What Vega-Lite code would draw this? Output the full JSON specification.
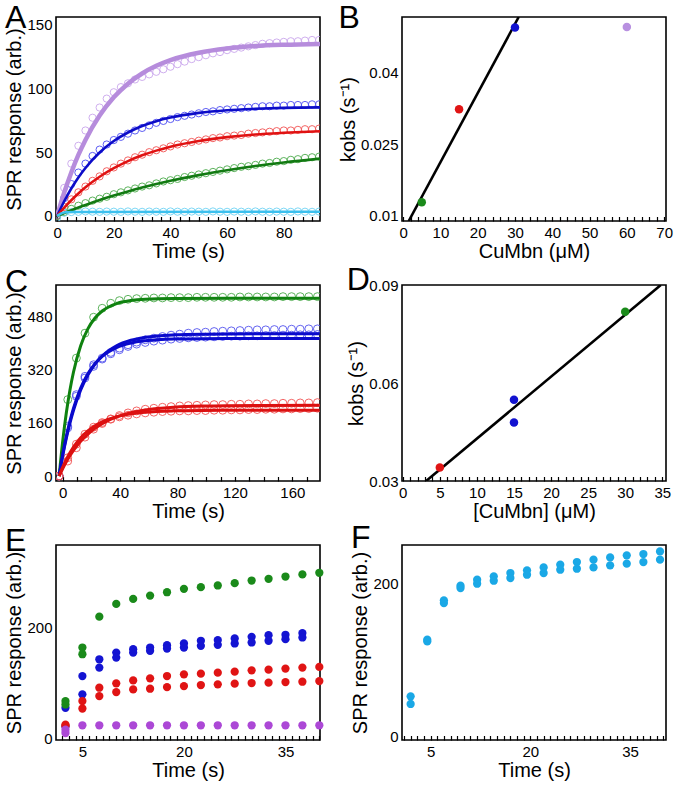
{
 "$schema": "https://vega.github.io/schema/vega-lite/v6.json",
 "background": "white",
 "padding": {"left": 4, "top": 0, "right": 2, "bottom": 2},
 "columns": 2,
 "spacing": {"row": 64, "column": 82},
 "bounds": "flush",
 "resolve": {"scale": {"color": "independent"}},
 "datasets": {
  "Ao": [
   {"s":"P","t":0,"v":1},{"s":"P","t":2.5,"v":22},{"s":"P","t":5,"v":41},{"s":"P","t":7.5,"v":55},{"s":"P","t":10,"v":67},{"s":"P","t":12.5,"v":77},{"s":"P","t":15,"v":85},{"s":"P","t":17.5,"v":92},{"s":"P","t":20,"v":97},{"s":"P","t":22.5,"v":101},{"s":"P","t":25,"v":104},{"s":"P","t":27.5,"v":107},{"s":"P","t":30,"v":109},{"s":"P","t":32.5,"v":111},{"s":"P","t":35,"v":113},{"s":"P","t":37.5,"v":115},{"s":"P","t":40,"v":117},{"s":"P","t":42.5,"v":119},{"s":"P","t":45,"v":121},{"s":"P","t":47.5,"v":123},{"s":"P","t":50,"v":124.5},{"s":"P","t":52.5,"v":126},{"s":"P","t":55,"v":127.5},{"s":"P","t":57.5,"v":128.5},{"s":"P","t":60,"v":130},{"s":"P","t":62.5,"v":131},{"s":"P","t":65,"v":132},{"s":"P","t":67.5,"v":133},{"s":"P","t":70,"v":134},{"s":"P","t":72.5,"v":135},{"s":"P","t":75,"v":135.5},{"s":"P","t":77.5,"v":136},{"s":"P","t":80,"v":136.5},{"s":"P","t":82.5,"v":137},{"s":"P","t":85,"v":137},{"s":"P","t":87.5,"v":137.5},{"s":"P","t":90,"v":138},{"s":"P","t":92.5,"v":138},
   {"s":"B","t":0,"v":0},{"s":"B","t":2.5,"v":14},{"s":"B","t":5,"v":25},{"s":"B","t":7.5,"v":34},{"s":"B","t":10,"v":41},{"s":"B","t":12.5,"v":47},{"s":"B","t":15,"v":52},{"s":"B","t":17.5,"v":56},{"s":"B","t":20,"v":59.5},{"s":"B","t":22.5,"v":62},{"s":"B","t":25,"v":64.5},{"s":"B","t":27.5,"v":67},{"s":"B","t":30,"v":69},{"s":"B","t":32.5,"v":71},{"s":"B","t":35,"v":73},{"s":"B","t":37.5,"v":74.5},{"s":"B","t":40,"v":76},{"s":"B","t":42.5,"v":77.5},{"s":"B","t":45,"v":78.5},{"s":"B","t":47.5,"v":79.5},{"s":"B","t":50,"v":80.5},{"s":"B","t":52.5,"v":81.5},{"s":"B","t":55,"v":82},{"s":"B","t":57.5,"v":83},{"s":"B","t":60,"v":83.5},{"s":"B","t":62.5,"v":84},{"s":"B","t":65,"v":84.5},{"s":"B","t":67.5,"v":85},{"s":"B","t":70,"v":85.5},{"s":"B","t":72.5,"v":86},{"s":"B","t":75,"v":86},{"s":"B","t":77.5,"v":86.5},{"s":"B","t":80,"v":86.5},{"s":"B","t":82.5,"v":87},{"s":"B","t":85,"v":87},{"s":"B","t":87.5,"v":87},{"s":"B","t":90,"v":87.5},{"s":"B","t":92.5,"v":87.5},
   {"s":"R","t":0,"v":0},{"s":"R","t":2.5,"v":7},{"s":"R","t":5,"v":13},{"s":"R","t":7.5,"v":18.5},{"s":"R","t":10,"v":23},{"s":"R","t":12.5,"v":27.5},{"s":"R","t":15,"v":31},{"s":"R","t":17.5,"v":35},{"s":"R","t":20,"v":38},{"s":"R","t":22.5,"v":41},{"s":"R","t":25,"v":43.5},{"s":"R","t":27.5,"v":46},{"s":"R","t":30,"v":48},{"s":"R","t":32.5,"v":50},{"s":"R","t":35,"v":51.5},{"s":"R","t":37.5,"v":53},{"s":"R","t":40,"v":54.5},{"s":"R","t":42.5,"v":56},{"s":"R","t":45,"v":57},{"s":"R","t":47.5,"v":58},{"s":"R","t":50,"v":59},{"s":"R","t":52.5,"v":60},{"s":"R","t":55,"v":61},{"s":"R","t":57.5,"v":61.5},{"s":"R","t":60,"v":62.5},{"s":"R","t":62.5,"v":63},{"s":"R","t":65,"v":63.5},{"s":"R","t":67.5,"v":64.5},{"s":"R","t":70,"v":65},{"s":"R","t":72.5,"v":65.5},{"s":"R","t":75,"v":66},{"s":"R","t":77.5,"v":66.5},{"s":"R","t":80,"v":67},{"s":"R","t":82.5,"v":67},{"s":"R","t":85,"v":67.5},{"s":"R","t":87.5,"v":68},{"s":"R","t":90,"v":68},{"s":"R","t":92.5,"v":68.5},
   {"s":"G","t":0,"v":0},{"s":"G","t":2.5,"v":3},{"s":"G","t":5,"v":5.5},{"s":"G","t":7.5,"v":8},{"s":"G","t":10,"v":10},{"s":"G","t":12.5,"v":12},{"s":"G","t":15,"v":13.5},{"s":"G","t":17.5,"v":15},{"s":"G","t":20,"v":17},{"s":"G","t":22.5,"v":18.5},{"s":"G","t":25,"v":20},{"s":"G","t":27.5,"v":21.5},{"s":"G","t":30,"v":23},{"s":"G","t":32.5,"v":24},{"s":"G","t":35,"v":25.5},{"s":"G","t":37.5,"v":27},{"s":"G","t":40,"v":28},{"s":"G","t":42.5,"v":29},{"s":"G","t":45,"v":30.5},{"s":"G","t":47.5,"v":31.5},{"s":"G","t":50,"v":32.5},{"s":"G","t":52.5,"v":33.5},{"s":"G","t":55,"v":34.5},{"s":"G","t":57.5,"v":35.5},{"s":"G","t":60,"v":36.5},{"s":"G","t":62.5,"v":37.5},{"s":"G","t":65,"v":38.5},{"s":"G","t":67.5,"v":39},{"s":"G","t":70,"v":40},{"s":"G","t":72.5,"v":41},{"s":"G","t":75,"v":41.5},{"s":"G","t":77.5,"v":42.5},{"s":"G","t":80,"v":43},{"s":"G","t":82.5,"v":44},{"s":"G","t":85,"v":44.5},{"s":"G","t":87.5,"v":45.5},{"s":"G","t":90,"v":46},{"s":"G","t":92.5,"v":46.5},
   {"s":"C","t":0,"v":-1.5},{"s":"C","t":2.5,"v":2.5},{"s":"C","t":5,"v":3},{"s":"C","t":7.5,"v":3.2},{"s":"C","t":10,"v":3.5},{"s":"C","t":12.5,"v":3.3},{"s":"C","t":15,"v":3.2},{"s":"C","t":17.5,"v":3.4},{"s":"C","t":20,"v":3.3},{"s":"C","t":22.5,"v":3.2},{"s":"C","t":25,"v":3.5},{"s":"C","t":27.5,"v":3.3},{"s":"C","t":30,"v":3.2},{"s":"C","t":32.5,"v":3.4},{"s":"C","t":35,"v":3.3},{"s":"C","t":37.5,"v":3.2},{"s":"C","t":40,"v":3.5},{"s":"C","t":42.5,"v":3.3},{"s":"C","t":45,"v":3.2},{"s":"C","t":47.5,"v":3.4},{"s":"C","t":50,"v":3.3},{"s":"C","t":52.5,"v":3.2},{"s":"C","t":55,"v":3.5},{"s":"C","t":57.5,"v":3.3},{"s":"C","t":60,"v":3.2},{"s":"C","t":62.5,"v":3.4},{"s":"C","t":65,"v":3.3},{"s":"C","t":67.5,"v":3.2},{"s":"C","t":70,"v":3.5},{"s":"C","t":72.5,"v":3.3},{"s":"C","t":75,"v":3.2},{"s":"C","t":77.5,"v":3.4},{"s":"C","t":80,"v":3.3},{"s":"C","t":82.5,"v":3.2},{"s":"C","t":85,"v":3.5},{"s":"C","t":87.5,"v":3.3},{"s":"C","t":90,"v":3.2},{"s":"C","t":92.5,"v":3.4}
  ],
  "Al": [
   {"s":"P","t":0,"v":0},{"s":"P","t":2.5,"v":18.3},{"s":"P","t":5,"v":34.1},{"s":"P","t":7.5,"v":47.8},{"s":"P","t":10,"v":59.6},{"s":"P","t":15,"v":78.7},{"s":"P","t":20,"v":93},{"s":"P","t":25,"v":103.7},{"s":"P","t":30,"v":111.7},{"s":"P","t":35,"v":117.7},{"s":"P","t":40,"v":122.2},{"s":"P","t":50,"v":128},{"s":"P","t":60,"v":131.3},{"s":"P","t":70,"v":133.2},{"s":"P","t":80,"v":134.2},{"s":"P","t":92.8,"v":134.9},
   {"s":"B","t":0,"v":0},{"s":"B","t":2.5,"v":11.5},{"s":"B","t":5,"v":21.5},{"s":"B","t":7.5,"v":30.2},{"s":"B","t":10,"v":37.6},{"s":"B","t":15,"v":49.7},{"s":"B","t":20,"v":58.7},{"s":"B","t":25,"v":65.4},{"s":"B","t":30,"v":70.5},{"s":"B","t":35,"v":74.3},{"s":"B","t":40,"v":77.1},{"s":"B","t":50,"v":80.8},{"s":"B","t":60,"v":82.9},{"s":"B","t":70,"v":84},{"s":"B","t":80,"v":84.7},{"s":"B","t":92.8,"v":85.1},
   {"s":"R","t":0,"v":0},{"s":"R","t":2.5,"v":6.5},{"s":"R","t":5,"v":12.3},{"s":"R","t":7.5,"v":17.6},{"s":"R","t":10,"v":22.4},{"s":"R","t":15,"v":30.7},{"s":"R","t":20,"v":37.4},{"s":"R","t":25,"v":43},{"s":"R","t":30,"v":47.5},{"s":"R","t":35,"v":51.2},{"s":"R","t":40,"v":54.3},{"s":"R","t":50,"v":58.8},{"s":"R","t":60,"v":61.8},{"s":"R","t":70,"v":63.9},{"s":"R","t":80,"v":65.2},{"s":"R","t":92.8,"v":66.4},
   {"s":"G","t":0,"v":0},{"s":"G","t":5,"v":4.5},{"s":"G","t":10,"v":8.6},{"s":"G","t":15,"v":12.5},{"s":"G","t":20,"v":16},{"s":"G","t":25,"v":19.2},{"s":"G","t":30,"v":22.2},{"s":"G","t":40,"v":27.5},{"s":"G","t":50,"v":32},{"s":"G","t":60,"v":35.8},{"s":"G","t":70,"v":39.1},{"s":"G","t":80,"v":41.9},{"s":"G","t":92.8,"v":44.9},
   {"s":"C","t":0,"v":0},{"s":"C","t":1.5,"v":2},{"s":"C","t":3,"v":2.8},{"s":"C","t":6,"v":3.1},{"s":"C","t":92.8,"v":3.3}
  ],
  "Bp": [
   {"s":"G","c":5,"k":0.0128},{"s":"R","c":15,"k":0.0323},{"s":"B","c":30,"k":0.0494},{"s":"P","c":60,"k":0.0495}
  ],
  "Bl": [{"c":1.5,"k":0.0089},{"c":31,"k":0.0516}],
  "Co": [
   {"s":"G","t":-2.5,"v":0},{"s":"G","t":3.5,"v":230},{"s":"G","t":9.5,"v":355},{"s":"G","t":15.5,"v":430},{"s":"G","t":21.5,"v":478},{"s":"G","t":27.5,"v":505},{"s":"G","t":33.5,"v":520},{"s":"G","t":39.5,"v":528},{"s":"G","t":45.5,"v":532},{"s":"G","t":51.5,"v":534},{"s":"G","t":57.5,"v":535},{"s":"G","t":63.5,"v":536},{"s":"G","t":69.5,"v":536},{"s":"G","t":75.5,"v":537},{"s":"G","t":81.5,"v":537},{"s":"G","t":87.5,"v":537},{"s":"G","t":93.5,"v":538},{"s":"G","t":99.5,"v":538},{"s":"G","t":105.5,"v":538},{"s":"G","t":111.5,"v":538},{"s":"G","t":117.5,"v":538},{"s":"G","t":123.5,"v":539},{"s":"G","t":129.5,"v":539},{"s":"G","t":135.5,"v":539},{"s":"G","t":141.5,"v":539},{"s":"G","t":147.5,"v":539},{"s":"G","t":153.5,"v":540},{"s":"G","t":159.5,"v":540},{"s":"G","t":165.5,"v":540},{"s":"G","t":171.5,"v":540},{"s":"G","t":177.5,"v":540},
   {"s":"B1","t":-2.5,"v":0},{"s":"B1","t":3.5,"v":150},{"s":"B1","t":9.5,"v":245},{"s":"B1","t":15.5,"v":300},{"s":"B1","t":21.5,"v":335},{"s":"B1","t":27.5,"v":355},{"s":"B1","t":33.5,"v":372},{"s":"B1","t":39.5,"v":385},{"s":"B1","t":45.5,"v":395},{"s":"B1","t":51.5,"v":403},{"s":"B1","t":57.5,"v":410},{"s":"B1","t":63.5,"v":415},{"s":"B1","t":69.5,"v":420},{"s":"B1","t":75.5,"v":424},{"s":"B1","t":81.5,"v":427},{"s":"B1","t":87.5,"v":430},{"s":"B1","t":93.5,"v":432},{"s":"B1","t":99.5,"v":433},{"s":"B1","t":105.5,"v":435},{"s":"B1","t":111.5,"v":436},{"s":"B1","t":117.5,"v":437},{"s":"B1","t":123.5,"v":438},{"s":"B1","t":129.5,"v":439},{"s":"B1","t":135.5,"v":440},{"s":"B1","t":141.5,"v":440},{"s":"B1","t":147.5,"v":441},{"s":"B1","t":153.5,"v":441},{"s":"B1","t":159.5,"v":442},{"s":"B1","t":165.5,"v":442},{"s":"B1","t":171.5,"v":443},{"s":"B1","t":177.5,"v":443},
   {"s":"B2","t":-2.5,"v":0},{"s":"B2","t":3.5,"v":145},{"s":"B2","t":9.5,"v":240},{"s":"B2","t":15.5,"v":295},{"s":"B2","t":21.5,"v":330},{"s":"B2","t":27.5,"v":352},{"s":"B2","t":33.5,"v":368},{"s":"B2","t":39.5,"v":380},{"s":"B2","t":45.5,"v":390},{"s":"B2","t":51.5,"v":397},{"s":"B2","t":57.5,"v":402},{"s":"B2","t":63.5,"v":406},{"s":"B2","t":69.5,"v":409},{"s":"B2","t":75.5,"v":412},{"s":"B2","t":81.5,"v":414},{"s":"B2","t":87.5,"v":416},{"s":"B2","t":93.5,"v":417},{"s":"B2","t":99.5,"v":418},{"s":"B2","t":105.5,"v":419},{"s":"B2","t":111.5,"v":420},{"s":"B2","t":117.5,"v":421},{"s":"B2","t":123.5,"v":421},{"s":"B2","t":129.5,"v":422},{"s":"B2","t":135.5,"v":422},{"s":"B2","t":141.5,"v":423},{"s":"B2","t":147.5,"v":423},{"s":"B2","t":153.5,"v":424},{"s":"B2","t":159.5,"v":424},{"s":"B2","t":165.5,"v":425},{"s":"B2","t":171.5,"v":425},{"s":"B2","t":177.5,"v":426},
   {"s":"R1","t":-2.5,"v":0},{"s":"R1","t":3.5,"v":45},{"s":"R1","t":9.5,"v":85},{"s":"R1","t":15.5,"v":117},{"s":"R1","t":21.5,"v":141},{"s":"R1","t":27.5,"v":158},{"s":"R1","t":33.5,"v":172},{"s":"R1","t":39.5,"v":182},{"s":"R1","t":45.5,"v":190},{"s":"R1","t":51.5,"v":196},{"s":"R1","t":57.5,"v":201},{"s":"R1","t":63.5,"v":204},{"s":"R1","t":69.5,"v":207},{"s":"R1","t":75.5,"v":209},{"s":"R1","t":81.5,"v":211},{"s":"R1","t":87.5,"v":212},{"s":"R1","t":93.5,"v":213},{"s":"R1","t":99.5,"v":214},{"s":"R1","t":105.5,"v":215},{"s":"R1","t":111.5,"v":215},{"s":"R1","t":117.5,"v":216},{"s":"R1","t":123.5,"v":216},{"s":"R1","t":129.5,"v":217},{"s":"R1","t":135.5,"v":217},{"s":"R1","t":141.5,"v":218},{"s":"R1","t":147.5,"v":218},{"s":"R1","t":153.5,"v":219},{"s":"R1","t":159.5,"v":219},{"s":"R1","t":165.5,"v":220},{"s":"R1","t":171.5,"v":220},{"s":"R1","t":177.5,"v":221},
   {"s":"R2","t":-2.5,"v":0},{"s":"R2","t":3.5,"v":55},{"s":"R2","t":9.5,"v":96},{"s":"R2","t":15.5,"v":126},{"s":"R2","t":21.5,"v":147},{"s":"R2","t":27.5,"v":161},{"s":"R2","t":33.5,"v":171},{"s":"R2","t":39.5,"v":178},{"s":"R2","t":45.5,"v":183},{"s":"R2","t":51.5,"v":187},{"s":"R2","t":57.5,"v":190},{"s":"R2","t":63.5,"v":192},{"s":"R2","t":69.5,"v":194},{"s":"R2","t":75.5,"v":195},{"s":"R2","t":81.5,"v":196},{"s":"R2","t":87.5,"v":196},{"s":"R2","t":93.5,"v":197},{"s":"R2","t":99.5,"v":197},{"s":"R2","t":105.5,"v":198},{"s":"R2","t":111.5,"v":198},{"s":"R2","t":117.5,"v":199},{"s":"R2","t":123.5,"v":199},{"s":"R2","t":129.5,"v":200},{"s":"R2","t":135.5,"v":200},{"s":"R2","t":141.5,"v":201},{"s":"R2","t":147.5,"v":201},{"s":"R2","t":153.5,"v":202},{"s":"R2","t":159.5,"v":202},{"s":"R2","t":165.5,"v":203},{"s":"R2","t":171.5,"v":203},{"s":"R2","t":177.5,"v":204}
  ],
  "Cl": [
   {"s":"G","t":-2.5,"v":0},{"s":"G","t":0,"v":105.7},{"s":"G","t":2.5,"v":190.5},{"s":"G","t":5,"v":258.5},{"s":"G","t":7.5,"v":313.1},{"s":"G","t":12.5,"v":392.1},{"s":"G","t":17.5,"v":443},{"s":"G","t":22.5,"v":475.7},{"s":"G","t":27.5,"v":496.8},{"s":"G","t":37.5,"v":519.2},{"s":"G","t":47.5,"v":528.4},{"s":"G","t":57.5,"v":532.3},{"s":"G","t":77.5,"v":534.5},{"s":"G","t":117.5,"v":535},{"s":"G","t":179,"v":535},
   {"s":"B1","t":-2.5,"v":0},{"s":"B1","t":0,"v":61.5},{"s":"B1","t":2.5,"v":114.1},{"s":"B1","t":5,"v":159.1},{"s":"B1","t":7.5,"v":197.8},{"s":"B1","t":12.5,"v":259.1},{"s":"B1","t":17.5,"v":304.1},{"s":"B1","t":22.5,"v":337.2},{"s":"B1","t":27.5,"v":361.4},{"s":"B1","t":37.5,"v":392.2},{"s":"B1","t":47.5,"v":408.7},{"s":"B1","t":57.5,"v":417.6},{"s":"B1","t":77.5,"v":425},{"s":"B1","t":97.5,"v":427.1},{"s":"B1","t":137.5,"v":428},{"s":"B1","t":179,"v":428},
   {"s":"B2","t":-2.5,"v":0},{"s":"B2","t":0,"v":64.7},{"s":"B2","t":2.5,"v":119.3},{"s":"B2","t":5,"v":165.4},{"s":"B2","t":7.5,"v":204.3},{"s":"B2","t":12.5,"v":264.7},{"s":"B2","t":17.5,"v":307.7},{"s":"B2","t":22.5,"v":338.4},{"s":"B2","t":27.5,"v":360.2},{"s":"B2","t":37.5,"v":386.7},{"s":"B2","t":47.5,"v":400.2},{"s":"B2","t":57.5,"v":407},{"s":"B2","t":77.5,"v":412.2},{"s":"B2","t":97.5,"v":413.5},{"s":"B2","t":137.5,"v":414},{"s":"B2","t":179,"v":414},
   {"s":"R1","t":-2.5,"v":0},{"s":"R1","t":0,"v":22.7},{"s":"R1","t":2.5,"v":42.9},{"s":"R1","t":5,"v":61},{"s":"R1","t":7.5,"v":77.2},{"s":"R1","t":12.5,"v":104.5},{"s":"R1","t":17.5,"v":126.4},{"s":"R1","t":22.5,"v":143.8},{"s":"R1","t":27.5,"v":157.8},{"s":"R1","t":37.5,"v":177.8},{"s":"R1","t":47.5,"v":190.5},{"s":"R1","t":57.5,"v":198.7},{"s":"R1","t":77.5,"v":207.2},{"s":"R1","t":97.5,"v":210.6},{"s":"R1","t":137.5,"v":212.6},{"s":"R1","t":179,"v":213},
   {"s":"R2","t":-2.5,"v":0},{"s":"R2","t":0,"v":26.7},{"s":"R2","t":2.5,"v":49.8},{"s":"R2","t":5,"v":69.8},{"s":"R2","t":7.5,"v":87.1},{"s":"R2","t":12.5,"v":115},{"s":"R2","t":17.5,"v":135.9},{"s":"R2","t":22.5,"v":151.5},{"s":"R2","t":27.5,"v":163.2},{"s":"R2","t":37.5,"v":178.5},{"s":"R2","t":47.5,"v":187.1},{"s":"R2","t":57.5,"v":191.9},{"s":"R2","t":77.5,"v":196.1},{"s":"R2","t":97.5,"v":197.4},{"s":"R2","t":137.5,"v":198},{"s":"R2","t":179,"v":198}
  ],
  "Dp": [
   {"s":"R","c":5,"k":0.0341},{"s":"B","c":15,"k":0.0549},{"s":"B","c":15,"k":0.0479},{"s":"G","c":30,"k":0.0818}
  ],
  "Dl": [{"c":3.15,"k":0.03},{"c":34.8,"k":0.09}],
  "E": [
   {"s":"B","t":2.5,"v":54.5},{"s":"B","t":5,"v":112},{"s":"B","t":7.5,"v":142.4},{"s":"B","t":10,"v":154.5},{"s":"B","t":12.5,"v":160.6},{"s":"B","t":15,"v":163.6},{"s":"B","t":17.5,"v":167.9},{"s":"B","t":20,"v":170.9},{"s":"B","t":22.5,"v":175.8},{"s":"B","t":25,"v":177},{"s":"B","t":27.5,"v":180},{"s":"B","t":30,"v":183},{"s":"B","t":32.5,"v":186},{"s":"B","t":35,"v":186.7},{"s":"B","t":37.5,"v":189.7},
   {"s":"B","t":2.5,"v":21},{"s":"B","t":5,"v":79},{"s":"B","t":7.5,"v":127.3},{"s":"B","t":10,"v":145.5},{"s":"B","t":12.5,"v":154.5},{"s":"B","t":15,"v":157.6},{"s":"B","t":17.5,"v":161.8},{"s":"B","t":20,"v":163.6},{"s":"B","t":22.5,"v":166.7},{"s":"B","t":25,"v":168.5},{"s":"B","t":27.5,"v":170.9},{"s":"B","t":30,"v":172.7},{"s":"B","t":32.5,"v":175.8},{"s":"B","t":35,"v":178.8},{"s":"B","t":37.5,"v":181.8},
   {"s":"R","t":2.5,"v":24.2},{"s":"R","t":5,"v":66.7},{"s":"R","t":7.5,"v":90.9},{"s":"R","t":10,"v":98.8},{"s":"R","t":12.5,"v":104.2},{"s":"R","t":15,"v":107.9},{"s":"R","t":17.5,"v":112.1},{"s":"R","t":20,"v":115.2},{"s":"R","t":22.5,"v":116.4},{"s":"R","t":25,"v":118.2},{"s":"R","t":27.5,"v":120},{"s":"R","t":30,"v":122.4},{"s":"R","t":32.5,"v":123.6},{"s":"R","t":35,"v":125.5},{"s":"R","t":37.5,"v":127.3},{"s":"R","t":40,"v":128.5},
   {"s":"R","t":2.5,"v":22},{"s":"R","t":5,"v":53.3},{"s":"R","t":7.5,"v":75.8},{"s":"R","t":10,"v":83},{"s":"R","t":12.5,"v":87.9},{"s":"R","t":15,"v":89.1},{"s":"R","t":17.5,"v":92.1},{"s":"R","t":20,"v":93.9},{"s":"R","t":22.5,"v":95.8},{"s":"R","t":25,"v":97},{"s":"R","t":27.5,"v":98.2},{"s":"R","t":30,"v":99.4},{"s":"R","t":32.5,"v":100},{"s":"R","t":35,"v":101.2},{"s":"R","t":37.5,"v":101.8},{"s":"R","t":40,"v":103},
   {"s":"G","t":2.5,"v":60.6},{"s":"G","t":5,"v":151.5},
   {"s":"G","t":2.5,"v":66.7},{"s":"G","t":5,"v":163.6},{"s":"G","t":7.5,"v":219.4},{"s":"G","t":10,"v":242.4},{"s":"G","t":12.5,"v":251.5},{"s":"G","t":15,"v":257.6},{"s":"G","t":17.5,"v":263.6},{"s":"G","t":20,"v":269.7},{"s":"G","t":22.5,"v":272.7},{"s":"G","t":25,"v":275.8},{"s":"G","t":27.5,"v":280},{"s":"G","t":30,"v":284.8},{"s":"G","t":32.5,"v":287.9},{"s":"G","t":35,"v":292},{"s":"G","t":37.5,"v":295.8},{"s":"G","t":40,"v":298.8},
   {"s":"P","t":2.5,"v":15},{"s":"P","t":2.5,"v":9},{"s":"P","t":5,"v":23},{"s":"P","t":7.5,"v":23},{"s":"P","t":10,"v":23},{"s":"P","t":12.5,"v":23},{"s":"P","t":15,"v":23},{"s":"P","t":17.5,"v":23},{"s":"P","t":20,"v":23},{"s":"P","t":22.5,"v":23},{"s":"P","t":25,"v":23},{"s":"P","t":27.5,"v":23},{"s":"P","t":30,"v":23},{"s":"P","t":32.5,"v":23},{"s":"P","t":35,"v":23},{"s":"P","t":37.5,"v":23},{"s":"P","t":40,"v":23}
  ],
  "F": [
   {"t":2,"v":52.8},{"t":4.5,"v":126.4},{"t":7,"v":177.5},{"t":9.5,"v":196.5},{"t":12,"v":204.3},{"t":14.5,"v":208.7},{"t":17,"v":213},{"t":19.5,"v":216.5},{"t":22,"v":220.3},{"t":24.5,"v":223.8},{"t":27,"v":227.3},{"t":29.5,"v":230.3},{"t":32,"v":233.3},{"t":34.5,"v":236},{"t":37,"v":237.7},{"t":39.5,"v":241.1},
   {"t":2,"v":42.9},{"t":4.5,"v":124.2},{"t":7,"v":174},{"t":9.5,"v":193.5},{"t":12,"v":199.1},{"t":14.5,"v":203},{"t":17,"v":206.5},{"t":19.5,"v":210.8},{"t":22,"v":213},{"t":24.5,"v":217.3},{"t":27,"v":218.6},{"t":29.5,"v":220.3},{"t":32,"v":223},{"t":34.5,"v":225.1},{"t":37,"v":227.3},{"t":39.5,"v":230.3}
  ]
 },
 "concat": [
  {
   "title": {"text": "A", "offset": -17.5},
   "width": 264, "height": 204,
   "encoding": {
    "x": {"field": "t", "type": "quantitative", "scale": {"domain": [-0.4, 92.8], "nice": false, "zero": false},
          "axis": {"title": "Time (s)", "values": [0,3.3333,6.6667,10,13.3333,16.6667,20,23.3333,26.6667,30,33.3333,36.6667,40,43.3333,46.6667,50,53.3333,56.6667,60,63.3333,66.6667,70,73.3333,76.6667,80,83.3333,86.6667,90], "labelExpr": "datum.value % 20 === 0 ? datum.label : ''"}},
    "y": {"field": "v", "type": "quantitative", "scale": {"domain": [-4, 156], "nice": false, "zero": false},
          "axis": {"title": "SPR response (arb.)", "values": [0,50,100,150]}}
   },
   "layer": [
    {"data": {"name": "Ao"}, "mark": {"type": "point", "shape": "circle", "filled": false, "size": 52, "strokeWidth": 0.9, "opacity": 1, "clip": true},
     "encoding": {"color": {"field": "s", "type": "nominal", "scale": {"domain": ["P","B","R","G","C"], "range": ["#caa6ec","#4c4cf2","#f25454","#4caa4c","#70d4f4"]}, "legend": null}}},
    {"data": {"name": "Al"}, "transform": [{"filter": "datum.s === 'P'"}], "mark": {"type": "line", "interpolate": "monotone", "color": "#b68cdc", "strokeWidth": 4.5, "clip": true}},
    {"data": {"name": "Al"}, "transform": [{"filter": "datum.s !== 'P'"}], "mark": {"type": "line", "interpolate": "monotone", "strokeWidth": 2.6, "clip": true},
     "encoding": {"color": {"field": "s", "type": "nominal", "scale": {"domain": ["B","R","G","C"], "range": ["#0c0cc8","#e01212","#127a12","#3cc0ee"]}, "legend": null}}}
   ],
   "resolve": {"scale": {"color": "independent"}}
  },
  {
   "title": {"text": "B", "offset": -17.5},
   "width": 264, "height": 204,
   "encoding": {
    "x": {"field": "c", "type": "quantitative", "scale": {"domain": [-0.3, 70.5], "nice": false, "zero": false},
          "axis": {"title": "CuMbn (μM)", "values": [0,2,4,6,8,10,12,14,16,18,20,22,24,26,28,30,32,34,36,38,40,42,44,46,48,50,52,54,56,58,60,62,64,66,68,70], "labelExpr": "datum.value % 10 === 0 ? datum.label : ''"}},
    "y": {"field": "k", "type": "quantitative", "scale": {"domain": [0.0089, 0.0516], "nice": false, "zero": false},
          "axis": {"title": "kobs (s⁻¹)", "values": [0.01, 0.025, 0.04], "labelExpr": "toString(datum.value)"}}
   },
   "layer": [
    {"data": {"name": "Bl"}, "mark": {"type": "line", "color": "black", "strokeWidth": 2.6, "clip": true}},
    {"data": {"name": "Bp"}, "mark": {"type": "circle", "size": 72, "opacity": 1},
     "encoding": {"color": {"field": "s", "type": "nominal", "scale": {"domain": ["G","R","B","P"], "range": ["#1a8a1a","#e01414","#1212d0","#b890e0"]}, "legend": null}}}
   ]
  },
  {
   "title": {"text": "C", "offset": -13.5},
   "width": 264, "height": 196,
   "encoding": {
    "x": {"field": "t", "type": "quantitative", "scale": {"domain": [-4.7, 179.3], "nice": false, "zero": false},
          "axis": {"title": "Time (s)", "values": [0,10,20,30,40,50,60,70,80,90,100,110,120,130,140,150,160,170], "labelExpr": "datum.value % 40 === 0 ? datum.label : ''"}},
    "y": {"field": "v", "type": "quantitative", "scale": {"domain": [-15, 575], "nice": false, "zero": false},
          "axis": {"title": "SPR response (arb.)", "values": [0,160,320,480]}}
   },
   "layer": [
    {"data": {"name": "Co"}, "mark": {"type": "point", "shape": "circle", "filled": false, "size": 62, "strokeWidth": 0.9, "opacity": 1, "clip": true},
     "encoding": {"color": {"field": "s", "type": "nominal", "scale": {"domain": ["G","B1","B2","R1","R2"], "range": ["#4caa4c","#5454ee","#5454ee","#f25454","#f25454"]}, "legend": null}}},
    {"data": {"name": "Cl"}, "mark": {"type": "line", "interpolate": "monotone", "strokeWidth": 3, "clip": true},
     "encoding": {"color": {"field": "s", "type": "nominal", "scale": {"domain": ["G","B1","B2","R1","R2"], "range": ["#0f820f","#0a0acc","#0a0acc","#dc1010","#dc1010"]}, "legend": null}}}
   ],
   "resolve": {"scale": {"color": "independent"}}
  },
  {
   "title": {"text": "D", "offset": -19},
   "width": 264, "height": 196,
   "encoding": {
    "x": {"field": "c", "type": "quantitative", "scale": {"domain": [-0.1, 35.5], "nice": false, "zero": false},
          "axis": {"title": "[CuMbn] (μM)", "values": [0,1,2,3,4,5,6,7,8,9,10,11,12,13,14,15,16,17,18,19,20,21,22,23,24,25,26,27,28,29,30,31,32,33,34,35], "labelExpr": "datum.value % 5 === 0 ? datum.label : ''"}},
    "y": {"field": "k", "type": "quantitative", "scale": {"domain": [0.03, 0.09], "nice": false, "zero": false},
          "axis": {"title": "kobs (s⁻¹)", "values": [0.03, 0.06, 0.09], "labelExpr": "toString(datum.value)"}}
   },
   "layer": [
    {"data": {"name": "Dl"}, "mark": {"type": "line", "color": "black", "strokeWidth": 2.6, "clip": true}},
    {"data": {"name": "Dp"}, "mark": {"type": "circle", "size": 72, "opacity": 1},
     "encoding": {"color": {"field": "s", "type": "nominal", "scale": {"domain": ["R","B","G"], "range": ["#e01414","#1212d0","#1a8a1a"]}, "legend": null}}}
   ]
  },
  {
   "title": {"text": "E", "offset": -12.5},
   "width": 264, "height": 195,
   "data": {"name": "E"},
   "mark": {"type": "circle", "size": 68, "opacity": 1},
   "encoding": {
    "x": {"field": "t", "type": "quantitative", "scale": {"domain": [1.1, 40.1], "nice": false, "zero": false},
          "axis": {"title": "Time (s)", "values": [2,3,4,5,6,7,8,9,10,11,12,13,14,15,16,17,18,19,20,21,22,23,24,25,26,27,28,29,30,31,32,33,34,35,36,37,38,39,40], "labelExpr": "indexof([5,20,35], datum.value) >= 0 ? datum.label : ''"}},
    "y": {"field": "v", "type": "quantitative", "scale": {"domain": [-3.6, 349], "nice": false, "zero": false},
          "axis": {"title": "SPR response (arb.)", "values": [0,200]}},
    "color": {"field": "s", "type": "nominal", "scale": {"domain": ["B","R","G","P"], "range": ["#1414d2","#e01414","#1a8a1a","#ac48d6"]}, "legend": null}
   }
  },
  {
   "title": {"text": "F", "offset": -10},
   "width": 264, "height": 195,
   "data": {"name": "F"},
   "mark": {"type": "circle", "size": 68, "opacity": 1, "color": "#1aa8e6"},
   "encoding": {
    "x": {"field": "t", "type": "quantitative", "scale": {"domain": [0.7, 40.4], "nice": false, "zero": false},
          "axis": {"title": "Time (s)", "values": [1,2,3,4,5,6,7,8,9,10,11,12,13,14,15,16,17,18,19,20,21,22,23,24,25,26,27,28,29,30,31,32,33,34,35,36,37,38,39,40], "labelExpr": "indexof([5,20,35], datum.value) >= 0 ? datum.label : ''"}},
    "y": {"field": "v", "type": "quantitative", "scale": {"domain": [-3.9, 249.4], "nice": false, "zero": false},
          "axis": {"title": "SPR response (arb.)", "values": [0,200]}}
   }
  }
 ],
 "config": {
  "font": "Liberation Sans",
  "view": {"stroke": "black", "strokeWidth": 1.6},
  "axis": {"domain": false, "grid": false, "tickColor": "black", "tickWidth": 1.2, "labelFont": "Liberation Sans", "labelFontSize": 15, "labelColor": "black", "titleFont": "Liberation Sans", "titleFontSize": 20, "titleFontWeight": "normal", "titleColor": "black", "labelOverlap": false, "labelFlush": false},
  "axisX": {"offset": -4.5, "tickSize": 4.5, "labelPadding": 4, "titlePadding": 1},
  "axisY": {"ticks": false, "labelPadding": 4, "titlePadding": 2},
  "title": {"font": "Liberation Sans", "fontSize": 32, "fontWeight": "normal", "anchor": "start", "frame": "bounds", "baseline": "alphabetic", "color": "black"}
 }
}
